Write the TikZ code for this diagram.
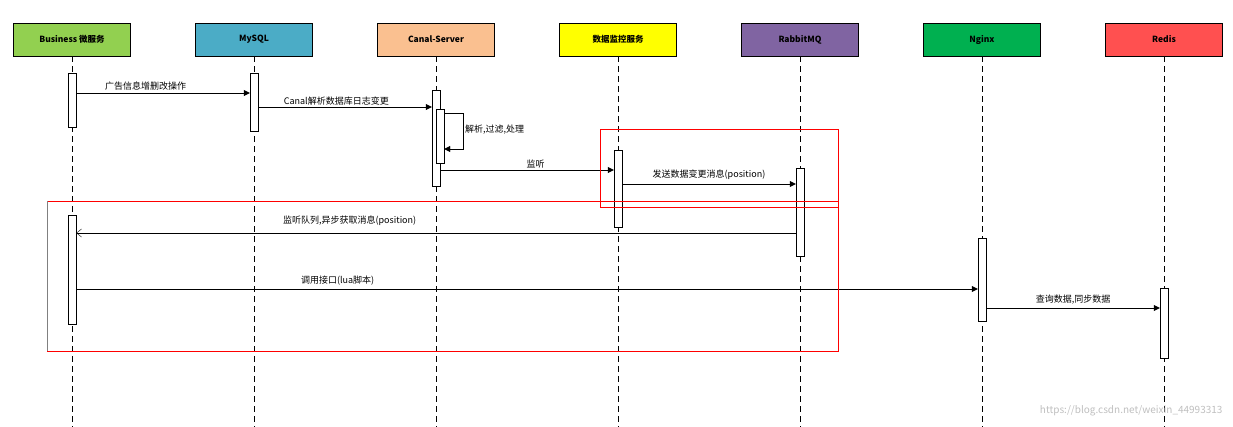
\documentclass[tikz,border=0pt]{standalone}
\usepackage{fontspec}
\setmainfont{Noto Sans CJK SC}
\usetikzlibrary{arrows.meta}
\definecolor{cBus}{HTML}{92D050}
\definecolor{cSql}{HTML}{4BACC6}
\definecolor{cCan}{HTML}{FAC090}
\definecolor{cMon}{HTML}{FFFF00}
\definecolor{cRab}{HTML}{8064A2}
\definecolor{cNgx}{HTML}{00B050}
\definecolor{cRed}{HTML}{FF5050}
\tikzset{
  head/.style={draw,thick,minimum width=117pt,minimum height=33pt,inner sep=0pt,font=\bfseries\fontsize{8.5}{9}\selectfont},
  life/.style={dash pattern=on 6pt off 4pt,thin},
  act/.style={draw,fill=white,thin},
  msg/.style={-{Triangle[length=6pt,width=6pt]},thin},
  ret/.style={-{Straight Barb[length=5pt,width=8pt]},thin},
  lbl/.style={font=\fontsize{9}{10}\selectfont,inner sep=1pt}
}
\begin{document}
\begin{tikzpicture}[x=1pt,y=-1pt]
\useasboundingbox (0,0) rectangle (1233,427);
\foreach \n/\x/\c/\t in {b/72/cBus/{Business 微服务},m/254/cSql/MySQL,c/436/cCan/Canal-Server,d/618/cMon/数据监控服务,r/800/cRab/RabbitMQ,n/982/cNgx/Nginx,s/1164/cRed/Redis}{
  \node[head,fill=\c] (h\n) at (\x,39.5) {\t};
  \coordinate (e\n) at (\x,427);
  \draw[life] (h\n.south) -- (e\n);
}
% activations
\node[act,minimum width=8pt,minimum height=54pt,inner sep=0pt] (ab1) at (72,100) {};
\node[act,minimum width=8pt,minimum height=109pt,inner sep=0pt] (ab2) at (72,269.5) {};
\node[act,minimum width=8pt,minimum height=58pt,inner sep=0pt] (am) at (254,102) {};
\node[act,minimum width=8pt,minimum height=96pt,inner sep=0pt] (ac) at (436,138) {};
\node[act,minimum width=8pt,minimum height=54pt,inner sep=0pt] (ac2) at (440,136) {};
\node[act,minimum width=8pt,minimum height=77pt,inner sep=0pt] (ad) at (618,188.5) {};
\node[act,minimum width=8pt,minimum height=88pt,inner sep=0pt] (ar) at (800,212) {};
\node[act,minimum width=8pt,minimum height=83pt,inner sep=0pt] (an) at (982,279.5) {};
\node[act,minimum width=8pt,minimum height=70pt,inner sep=0pt] (as) at (1164,323) {};
% messages
\draw[msg] (ab1.east|-0,93) -- node[lbl,above=1pt,pos=0.4]{广告信息增删改操作} (am.west|-0,93);
\draw[msg] (am.east|-0,107) -- node[lbl,above=1pt,pos=0.45]{Canal解析数据库日志变更} (ac.west|-0,107);
\coordinate (s1) at (463,113);
\coordinate (s2) at (463,149);
\draw[msg] (ac2.east|-0,113) -- (s1) -- (s2) -- (ac2.east|-0,149);
\node[lbl,anchor=west] (sl) at (464,130) {解析,过滤,处理};
\draw[msg] (ac.east|-0,170) -- node[lbl,above=1pt,pos=0.55]{监听} (ad.west|-0,170);
\draw[msg] (ad.east|-0,184) -- node[lbl,above=3pt,pos=0.5]{发送数据变更消息(position)} (ar.west|-0,184);
\draw[ret] (ar.west|-0,233) -- node[lbl,above=6pt,pos=0.62]{监听队列,异步获取消息(position)} (ab2.east|-0,233);
\draw[msg] (ab2.east|-0,289) -- node[lbl,above=3pt,pos=0.29]{调用接口(lua脚本)} (an.west|-0,289);
\draw[msg] (an.east|-0,308) -- node[lbl,above=3pt]{查询数据,同步数据} (as.west|-0,308);
% boxes
\draw[red,thin] (600,129) rectangle (838,207);
\draw[red,thin] (47,201) -- (838,201) -- (838,351) -- (47,351);
\draw[gray,thin] (47,201) -- (47,351);
\node[font=\fontsize{10}{11}\selectfont,text=gray!50,anchor=south east] (wm) at (1226,420) {https://blog.csdn.net/weixin\_44993313};
\end{tikzpicture}
\end{document}
